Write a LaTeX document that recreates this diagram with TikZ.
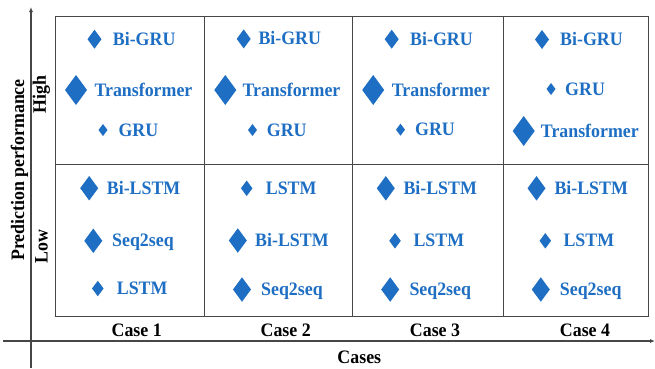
\documentclass[tikz,border=0pt]{standalone}
\usepackage{fontspec}
\setmainfont{Liberation Serif}[FakeStretch=0.94]
\usetikzlibrary{shapes.geometric,arrows.meta}
\definecolor{mblue}{RGB}{30,110,195}
\definecolor{lgray}{RGB}{70,70,70}
\newcommand\mitem[6]{%
  \node[dia,#2] (d#1) at (#3,#4) {};
  \node[lbl] (t#1) at (#5,#4+6) {#6};}
\begin{document}
\begin{tikzpicture}[x=1pt,y=-1pt,
  dia/.style={diamond,fill=mblue,draw=none,inner sep=0pt,outer sep=0pt},
  sXL/.style={minimum width=22pt,minimum height=30pt},
  sL/.style={minimum width=18pt,minimum height=24.5pt},
  sM/.style={minimum width=14pt,minimum height=19pt},
  sS/.style={minimum width=11.5pt,minimum height=15.5pt},
  sXS/.style={minimum width=9pt,minimum height=12pt},
  lbl/.style={anchor=base west,inner sep=0pt,text=mblue,font=\fontsize{19pt}{22pt}\selectfont\bfseries},
  blk/.style={inner sep=0pt,text=black,font=\fontsize{19pt}{22pt}\selectfont\bfseries},
  gridline/.style={draw=lgray,line width=1pt},
  axis/.style={draw=lgray,line width=1.2pt,-{Latex[length=5pt,width=4pt]}}]
\useasboundingbox (0,0) rectangle (655,368);
% grid
\coordinate (b1) at (55,16);
\coordinate (b2) at (648,316);
\draw[gridline] (b1) rectangle (b2);
\coordinate (c1t) at (204.5,16); \coordinate (c1b) at (204.5,316);
\coordinate (c2t) at (352,16);   \coordinate (c2b) at (352,316);
\coordinate (c3t) at (503,16);   \coordinate (c3b) at (503,316);
\coordinate (rl) at (55,164);    \coordinate (rr) at (648,164);
\draw[gridline] (c1t) -- (c1b);
\draw[gridline] (c2t) -- (c2b);
\draw[gridline] (c3t) -- (c3b);
\draw[gridline] (rl) -- (rr);
% axes
\coordinate (yb) at (31,368); \coordinate (yt) at (31,7);
\coordinate (xl) at (3,341);  \coordinate (xr) at (655,341);
\draw[axis] (yb) -- (yt);
\draw[axis] (xl) -- (xr);
% axis labels
\node[blk,rotate=90] (ylab) at (19.5,170) {Prediction performance};
\node[blk,rotate=90] (hi) at (41.5,94.5) {High};
\node[blk,rotate=90] (lo) at (41.5,246.5) {Low};
\node[blk] (case1) at (136.7,330.5) {Case 1};
\node[blk] (case2) at (285.7,330.5) {Case 2};
\node[blk] (case3) at (435,330.5) {Case 3};
\node[blk] (case4) at (585,330.5) {Case 4};
\node[blk] (cases) at (359.3,357.5) {Cases};
% column 1
\mitem{11}{sM}{94.5}{39.2}{112.7}{Bi-GRU}
\mitem{12}{sXL}{76}{90}{94.3}{Transformer}
\mitem{13}{sXS}{103}{130}{118.3}{GRU}
\mitem{14}{sL}{89.2}{188.2}{106.7}{Bi-LSTM}
\mitem{15}{sL}{93.3}{240.8}{112}{Seq2seq}
\mitem{16}{sS}{97.8}{288.5}{116.7}{LSTM}
% column 2
\mitem{21}{sM}{243.7}{38.9}{258.3}{Bi-GRU}
\mitem{22}{sXL}{225.3}{90}{242.3}{Transformer}
\mitem{23}{sXS}{252.5}{130}{266.7}{GRU}
\mitem{24}{sS}{246.7}{188.3}{265.7}{LSTM}
\mitem{25}{sL}{237.8}{240.5}{255}{Bi-LSTM}
\mitem{26}{sL}{242}{289.5}{261}{Seq2seq}
% column 3
\mitem{31}{sM}{391.7}{39.2}{410}{Bi-GRU}
\mitem{32}{sXL}{373.2}{90}{391.7}{Transformer}
\mitem{33}{sXS}{400.5}{129.7}{415}{GRU}
\mitem{34}{sL}{385.8}{188.3}{403.3}{Bi-LSTM}
\mitem{35}{sS}{395}{240.8}{413.3}{LSTM}
\mitem{36}{sL}{390.2}{289.5}{409.3}{Seq2seq}
% column 4
\mitem{41}{sM}{542}{39.5}{560}{Bi-GRU}
\mitem{42}{sXS}{551}{89}{565}{GRU}
\mitem{43}{sXL}{523.7}{131}{540.7}{Transformer}
\mitem{44}{sL}{536.5}{188.3}{554.3}{Bi-LSTM}
\mitem{45}{sS}{545.3}{240.8}{563.3}{LSTM}
\mitem{46}{sL}{540.8}{289.5}{559.7}{Seq2seq}
\end{tikzpicture}
\end{document}
